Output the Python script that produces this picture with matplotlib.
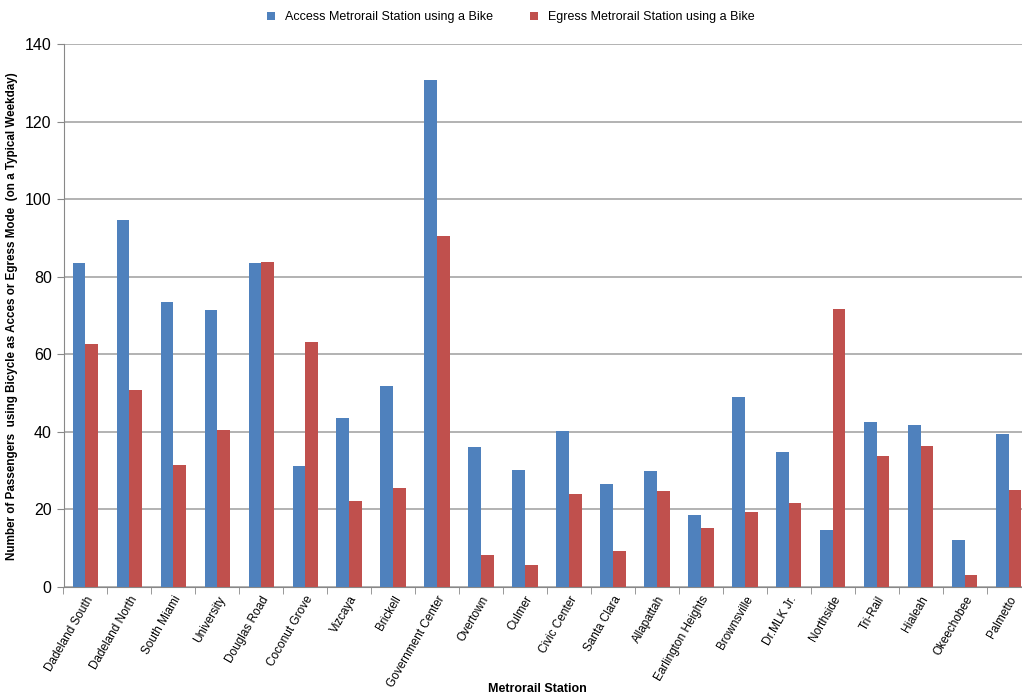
import numpy as np
import matplotlib.pyplot as plt

stations = ['Dadeland South', 'Dadeland North', 'South Miami', 'University', 'Douglas Road',
            'Coconut Grove', 'Vizcaya', 'Brickell', 'Government Center', 'Overtown', 'Culmer',
            'Civic Center', 'Santa Clara', 'Allapattah', 'Earlington Heights', 'Brownsville',
            'Dr.MLK Jr.', 'Northside', 'Tri-Rail', 'Hialeah', 'Okeechobee', 'Palmetto']
access = [83.5, 94.8, 73.5, 71.5, 83.5, 31.3, 43.7, 51.8, 130.8, 36.2, 30.1,
          40.3, 26.5, 29.9, 18.7, 49.1, 34.7, 14.8, 42.5, 41.9, 12.0, 39.5]
egress = [62.7, 50.9, 31.6, 40.4, 83.8, 63.3, 22.3, 25.6, 90.5, 8.2, 5.6,
          24.1, 9.3, 24.7, 15.3, 19.3, 21.6, 71.8, 33.8, 36.4, 3.2, 25.0]

plt.rcParams['font.family'] = ['Liberation Sans', 'DejaVu Sans']

fig = plt.figure(figsize=(10.22, 7), dpi=100)
# plot area runs a little past the right edge, as in the original
ax = fig.add_axes([63.5 / 1022, 113 / 700, 967 / 1022, 542.7 / 700])

x = np.arange(len(stations))
w = 0.29
ax.bar(x - w / 2, access, w, color='#4F81BD', label='Access Metrorail Station using a Bike', zorder=3)
ax.bar(x + w / 2, egress, w, color='#C0504D', label='Egress Metrorail Station using a Bike', zorder=3)

ax.set_xlim(-0.5, len(stations) - 0.5)
ax.set_ylim(0, 140)
ax.set_yticks(range(0, 141, 20))
ax.yaxis.grid(True, color='#a6a6a6', linewidth=1.2, zorder=0)

ax.set_xticks(x)
ax.set_xticklabels(stations, rotation=60, ha='right', rotation_mode='anchor', fontsize=8.5)
ax.set_xticks(np.arange(-0.5, len(stations), 1), minor=True)
ax.tick_params(axis='x', which='major', length=0, pad=5)
ax.tick_params(axis='x', which='minor', length=5, color='#888888')
ax.tick_params(axis='y', length=5, color='#888888', labelsize=11.5)

for s in ['top', 'right']:
    ax.spines[s].set_visible(False)
for s in ['left', 'bottom']:
    ax.spines[s].set_color('#888888')

ax.set_ylabel('Number of Passengers  using Bicycle as Acces or Egress Mode  (on a Typical Weekday)',
              fontsize=8.4, fontweight='bold', labelpad=5)
ax.set_xlabel('Metrorail Station', fontsize=9, fontweight='bold')
ax.xaxis.set_label_coords((537 - 63.5) / 967, -0.176)

fig.legend(loc='upper center', bbox_to_anchor=(0.5, 1.0), ncol=2, frameon=False,
           fontsize=9, handlelength=0.6, handleheight=0.6, columnspacing=3)

fig.savefig('out.png', dpi=100)
